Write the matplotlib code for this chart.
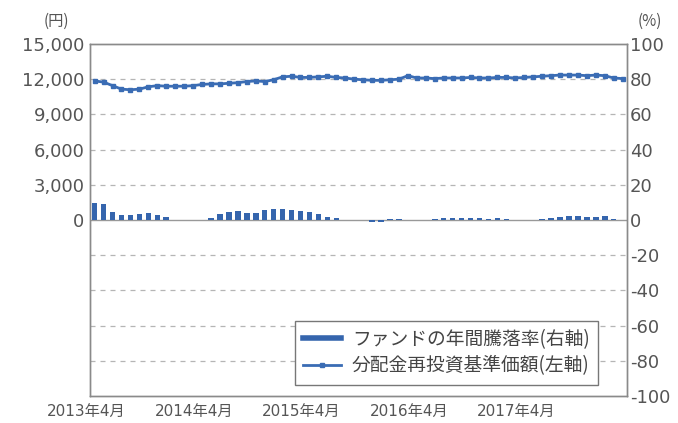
import matplotlib
matplotlib.use('Agg')
import matplotlib.pyplot as plt
import matplotlib.transforms as mtransforms
from matplotlib.ticker import FuncFormatter

plt.rcParams['font.family'] = ['DejaVu Sans', 'Noto Sans CJK JP']
plt.rcParams['axes.unicode_minus'] = False

# 月次データ 2013年4月〜2018年3月
n_months = 60
tick_idx = [0, 12, 24, 36, 48]
tick_labels = ['2013年4月', '2014年4月', '2015年4月', '2016年4月', '2017年4月']

# ファンドの年間騰落率 (%)
returns = [9.5, 9.0, 4.5, 3.0, 3.0, 3.5, 4.0, 3.0, 1.5, 0.2,
           0.1, 0.1, 0.1, 1.0, 3.5, 4.5, 5.0, 4.0, 4.0, 5.5,
           6.5, 6.0, 5.5, 5.0, 4.5, 3.5, 1.5, 1.0, 0.1, 0.1,
           0.1, -1.0, -1.0, 0.3, 0.8, -0.3, 0.1, 0.1, 0.5, 1.0,
           1.0, 1.2, 1.0, 1.0, 0.8, 1.0, 0.8, 0.1, 0.1, 0.2,
           0.8, 1.0, 1.5, 2.0, 2.0, 1.8, 1.5, 2.0, 0.8, 0.2]

# 分配金再投資基準価額 (円)
nav = [11850, 11750, 11450, 11150, 11100, 11150, 11350, 11450, 11400, 11400,
       11400, 11450, 11550, 11600, 11600, 11650, 11700, 11800, 11850, 11800,
       11950, 12200, 12250, 12150, 12150, 12200, 12250, 12150, 12100, 12000,
       11950, 11900, 11900, 11950, 12000, 12300, 12100, 12100, 12050, 12100,
       12100, 12100, 12150, 12100, 12100, 12150, 12150, 12100, 12150, 12200,
       12250, 12300, 12350, 12350, 12350, 12300, 12350, 12300, 12100, 12050]

x = list(range(n_months))
blue = '#3565ad'
line_blue = '#3a6cb4'
text_c = '#555555'
spine_c = '#8a8a8a'

fig = plt.figure(figsize=(6.78, 4.23), dpi=100)
ax = fig.add_axes([0.133, 0.064, 0.792, 0.832])
ax2 = ax.twinx()

# 左軸: 基準価額 (ラインを前面に)
ax.set_zorder(ax2.get_zorder() + 1)
ax.patch.set_visible(False)

ax2.bar(x, returns, width=0.62, color=blue, label='ファンドの年間騰落率(右軸)', zorder=3)
ax2.set_ylim(-100, 100)
ax2.set_yticks(range(-100, 101, 20))
for v in range(-100, 101, 20):
    if v in (100, -100):
        continue
    if v == 0:
        ax2.axhline(0, color='#999999', lw=1.0, zorder=2)
    else:
        ax2.axhline(v, color='#b5b5b5', lw=0.9, ls=(0, (4, 4)), zorder=1)

line, = ax.plot(x, nav, color=line_blue, lw=2, marker='s', markersize=3.5,
                label='分配金再投資基準価額(左軸)')
ax.set_ylim(-15000, 15000)
ax.set_yticks(range(0, 15001, 3000))
ax.yaxis.set_major_formatter(FuncFormatter(lambda v, p: f'{int(v):,}'))
ax.set_xlim(-0.5, n_months - 0.5)
ax.set_xticks(tick_idx)
ax.set_xticklabels(tick_labels)

for a in (ax, ax2):
    for s in a.spines.values():
        s.set_color(spine_c)
        s.set_linewidth(1.0)
    a.tick_params(colors=text_c, labelsize=13, length=0, pad=4)
ax.tick_params(axis='x', labelsize=11, pad=6)
ax2.tick_params(axis='y', pad=2)

offset = mtransforms.ScaledTranslation(-8 / 100, 0, fig.dpi_scale_trans)
for lbl in ax.get_xticklabels():
    lbl.set_transform(lbl.get_transform() + offset)

fig.text(0.083, 0.94, '(円)', color=text_c, fontsize=11, ha='center',
         family=['Noto Sans CJK JP', 'DejaVu Sans'])
fig.text(0.958, 0.94, '(%)', color=text_c, fontsize=11, ha='center',
         family=['Noto Sans CJK JP', 'DejaVu Sans'])

h1, l1 = ax2.get_legend_handles_labels()
leg_handles = [plt.Line2D([], [], color=blue, lw=4), line]
leg = ax.legend(leg_handles, [l1[0], line.get_label()], loc='lower right',
                bbox_to_anchor=(0.946, 0.031), fancybox=False, framealpha=1,
                edgecolor='#777777', handlelength=2.0, borderpad=0.45,
                labelspacing=0.3, handletextpad=0.6, borderaxespad=0,
                prop={'family': ['Noto Sans CJK JP', 'DejaVu Sans'], 'size': 13.5})
for t in leg.get_texts():
    t.set_color('#444444')
leg.get_frame().set_linewidth(1.0)

fig.savefig('out.png', dpi=100)
